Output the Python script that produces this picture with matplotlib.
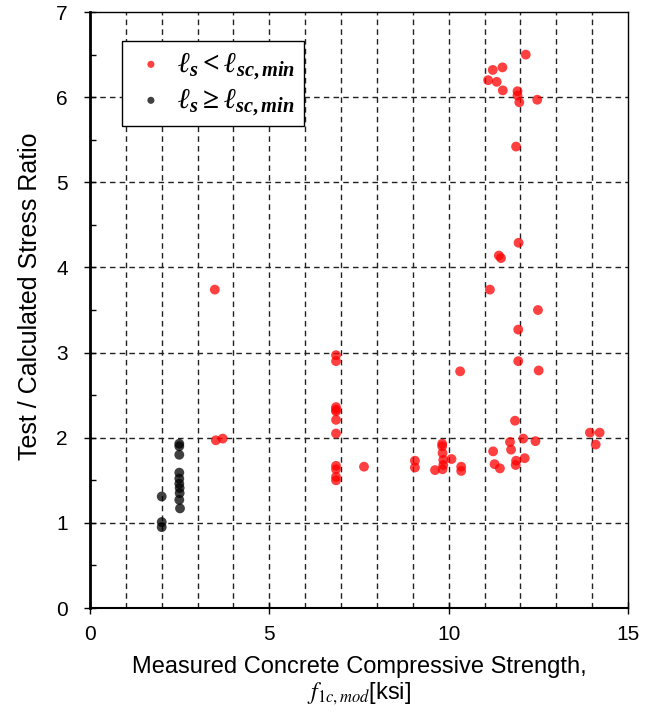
import matplotlib
matplotlib.use("Agg")
import matplotlib.pyplot as plt
from matplotlib import rcParams
from matplotlib.ticker import MultipleLocator

# data
red_x = [3.48, 3.51, 3.70,
         6.86, 6.86, 6.86, 6.86, 6.86, 6.86, 6.86, 6.86, 6.86, 6.86, 6.86, 7.64,
         9.06, 9.06, 9.62, 9.82, 9.82, 9.83, 9.85, 9.85, 9.83, 10.08, 10.35, 10.35,
         10.32, 11.24, 11.28, 11.43, 11.71, 11.74, 11.85, 11.88, 11.87, 12.08, 12.12, 12.42,
         13.94, 14.21, 14.10,
         11.94, 11.94, 12.51, 12.49, 11.15, 11.40, 11.46, 11.95,
         11.88, 12.15, 11.23, 11.50, 11.10, 11.34, 11.51, 11.92, 11.92, 11.97, 12.47]
red_y = [3.74, 1.97, 1.99,
         2.97, 2.90, 2.36, 2.33, 2.31, 2.21, 2.05, 1.67, 1.63, 1.54, 1.50, 1.66,
         1.73, 1.65, 1.62, 1.93, 1.90, 1.82, 1.74, 1.68, 1.63, 1.75, 1.66, 1.61,
         2.78, 1.84, 1.69, 1.64, 1.95, 1.86, 2.20, 1.73, 1.68, 1.99, 1.76, 1.96,
         2.06, 2.06, 1.92,
         2.90, 3.27, 2.79, 3.50, 3.74, 4.14, 4.11, 4.29,
         5.42, 6.50, 6.32, 6.35, 6.20, 6.18, 6.08, 6.07, 6.02, 5.94, 5.97]

black_x = [2.49, 2.49, 2.49, 2.49, 2.49, 2.49, 2.50, 2.50, 2.49, 2.51, 2.00, 2.00, 2.00]
black_y = [1.93, 1.90, 1.80, 1.59, 1.52, 1.46, 1.41, 1.35, 1.27, 1.17, 1.31, 1.01, 0.95]

label_red = r"$\ell_s < \ell_{sc,min}$"
label_black = r"$\ell_s \geq \ell_{sc,min}$"

rcParams['font.family'] = 'sans-serif'
rcParams['font.sans-serif'] = ['Liberation Sans']
# bold italic serif for the legend maths
rcParams['mathtext.fontset'] = 'custom'
rcParams['mathtext.rm'] = 'Liberation Serif:bold'
rcParams['mathtext.it'] = 'Liberation Serif:italic:bold'
rcParams['mathtext.bf'] = 'Liberation Serif:bold'

fig = plt.figure(figsize=(6.54, 7.17), dpi=100, facecolor='white')
ax = fig.add_axes([0.1376, 0.152, 0.8226, 0.8312])

ax.scatter(red_x, red_y, s=50, color='red', alpha=0.75, edgecolors='none',
           label=label_red, zorder=3)
ax.scatter(black_x, black_y, s=50, color='black', alpha=0.75, edgecolors='none',
           label=label_black, zorder=3)

ax.set_xlim(0, 15)
ax.set_ylim(0, 7)
ax.xaxis.set_major_locator(MultipleLocator(5))
ax.xaxis.set_minor_locator(MultipleLocator(1))
ax.yaxis.set_major_locator(MultipleLocator(1))
ax.yaxis.set_minor_locator(MultipleLocator(0.5))

# dashed grid at every unit
for gx in range(1, 15):
    ax.axvline(gx, color='#222222', linestyle=(0, (4, 3)), linewidth=1, zorder=1)
for gy in range(1, 7):
    ax.axhline(gy, color='#222222', linestyle=(0, (4, 3)), linewidth=1, zorder=1)

ax.tick_params(axis='both', which='major', labelsize=15, direction='inout', length=8, width=1)
ax.tick_params(axis='x', which='major', pad=8)
ax.tick_params(axis='y', which='major', pad=12)
ax.tick_params(axis='x', which='minor', length=0)
ax.tick_params(axis='y', which='minor', direction='in', length=4, width=1)

ax.spines['left'].set_linewidth(2)
ax.spines['bottom'].set_linewidth(1.5)
ax.spines['top'].set_linewidth(1)
ax.spines['right'].set_linewidth(1)

ax.set_ylabel("Test / Calculated Stress Ratio", fontsize=18, labelpad=10)
ax.yaxis.label.set_y(0.523)
xl = ax.set_xlabel("Measured Concrete Compressive Strength,\n"
                   r"$f_{\mathit{1c,mod}}$[ksi]", fontsize=17, labelpad=9, linespacing=1.15)
xl.set_math_fontfamily('stix')

leg = ax.legend(loc='upper left', bbox_to_anchor=(0.059, 0.951), borderaxespad=0,
                fontsize=21, frameon=True, fancybox=False, edgecolor='black',
                framealpha=1, handletextpad=0.2, borderpad=0.3, labelspacing=0.15,
                markerscale=0.72, handlelength=1.4)
leg.get_frame().set_linewidth(1)

plt.savefig("out.png", dpi=100, facecolor='white')
